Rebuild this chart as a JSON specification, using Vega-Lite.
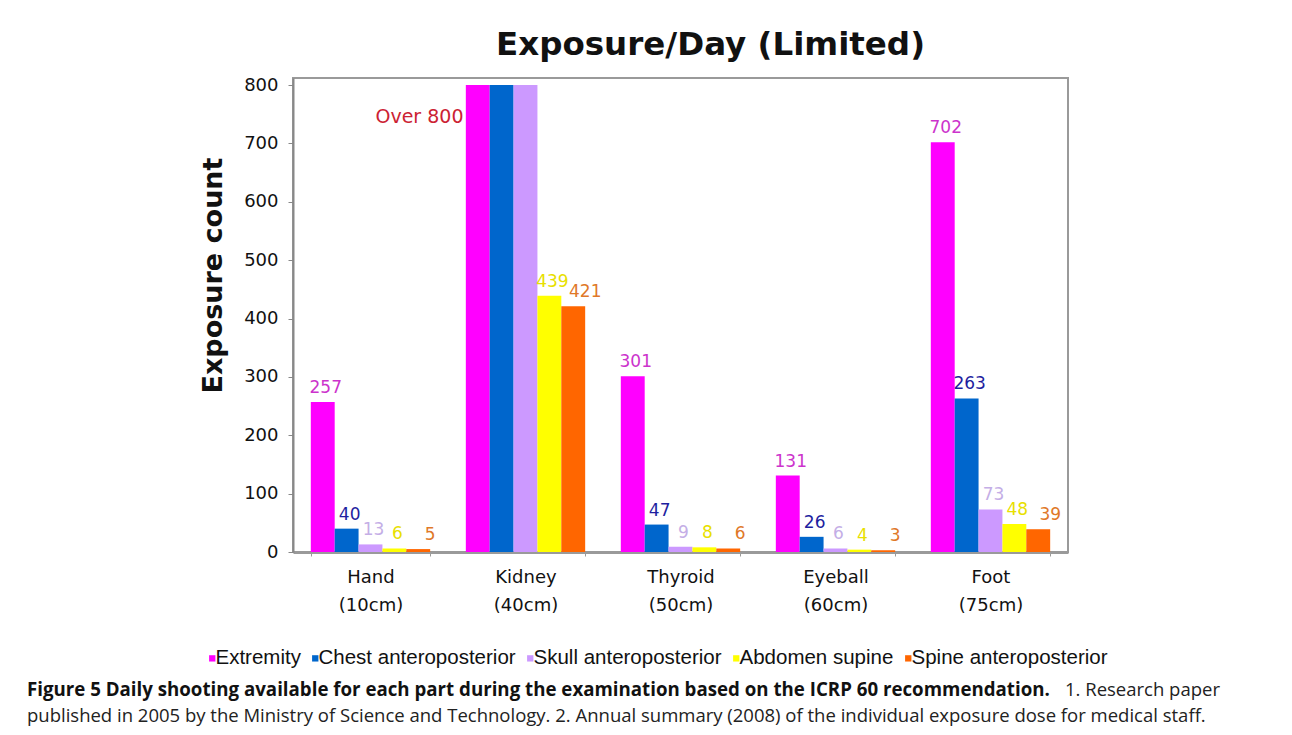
{
  "$schema": "https://vega.github.io/schema/vega-lite/v6.json",
  "width": 775,
  "height": 474,
  "autosize": {"type": "none"},
  "padding": {"left": 293, "top": 78, "right": 224, "bottom": 183},
  "background": "white",
  "title": {
    "text": "Exposure/Day (Limited)",
    "font": "DejaVu Sans",
    "fontSize": 32.5,
    "fontWeight": "bold",
    "color": "#111111",
    "anchor": "middle",
    "dx": 30,
    "offset": 15
  },
  "config": {
    "view": {"stroke": "#9a9a9a", "strokeWidth": 2},
    "axis": {"labelFont": "DejaVu Sans", "titleFont": "DejaVu Sans", "grid": false}
  },
  "data": {
    "values": [
      {"part": "Hand (10cm)", "series": "Extremity", "value": 257},
      {"part": "Hand (10cm)", "series": "Chest anteroposterior", "value": 40},
      {"part": "Hand (10cm)", "series": "Skull anteroposterior", "value": 13},
      {"part": "Hand (10cm)", "series": "Abdomen supine", "value": 6},
      {"part": "Hand (10cm)", "series": "Spine anteroposterior", "value": 5},
      {"part": "Kidney (40cm)", "series": "Extremity", "value": 800},
      {"part": "Kidney (40cm)", "series": "Chest anteroposterior", "value": 800},
      {"part": "Kidney (40cm)", "series": "Skull anteroposterior", "value": 800},
      {"part": "Kidney (40cm)", "series": "Abdomen supine", "value": 439},
      {"part": "Kidney (40cm)", "series": "Spine anteroposterior", "value": 421},
      {"part": "Thyroid (50cm)", "series": "Extremity", "value": 301},
      {"part": "Thyroid (50cm)", "series": "Chest anteroposterior", "value": 47},
      {"part": "Thyroid (50cm)", "series": "Skull anteroposterior", "value": 9},
      {"part": "Thyroid (50cm)", "series": "Abdomen supine", "value": 8},
      {"part": "Thyroid (50cm)", "series": "Spine anteroposterior", "value": 6},
      {"part": "Eyeball (60cm)", "series": "Extremity", "value": 131},
      {"part": "Eyeball (60cm)", "series": "Chest anteroposterior", "value": 26},
      {"part": "Eyeball (60cm)", "series": "Skull anteroposterior", "value": 6},
      {"part": "Eyeball (60cm)", "series": "Abdomen supine", "value": 4},
      {"part": "Eyeball (60cm)", "series": "Spine anteroposterior", "value": 3},
      {"part": "Foot (75cm)", "series": "Extremity", "value": 702},
      {"part": "Foot (75cm)", "series": "Chest anteroposterior", "value": 263},
      {"part": "Foot (75cm)", "series": "Skull anteroposterior", "value": 73},
      {"part": "Foot (75cm)", "series": "Abdomen supine", "value": 48},
      {"part": "Foot (75cm)", "series": "Spine anteroposterior", "value": 39}
    ]
  },
  "layer": [
    {
      "mark": {"type": "bar"},
      "encoding": {
        "x": {
          "field": "part",
          "type": "nominal",
          "sort": null,
          "scale": {"paddingInner": 0.23, "paddingOuter": 0.115},
          "axis": {
            "title": null,
            "labelAngle": 0,
            "labelExpr": "split(datum.label, ' ')",
            "labelFontSize": 18,
            "labelLineHeight": 28,
            "labelPadding": 12,
            "labelColor": "#111111",
            "tickBand": "extent",
            "tickColor": "#9a9a9a",
            "tickSize": 4,
            "domainColor": "#9a9a9a",
            "domainWidth": 3
          }
        },
        "xOffset": {
          "field": "series",
          "type": "nominal",
          "sort": ["Extremity", "Chest anteroposterior", "Skull anteroposterior", "Abdomen supine", "Spine anteroposterior"],
          "scale": {"paddingInner": 0, "paddingOuter": 0}
        },
        "y": {
          "field": "value",
          "type": "quantitative",
          "scale": {"domain": [0, 812], "nice": false},
          "axis": {
            "title": "Exposure count",
            "titleFontSize": 27,
            "titleFontWeight": "bold",
            "titleColor": "#111111",
            "titlePadding": 16,
            "titleY": 197,
            "values": [0, 100, 200, 300, 400, 500, 600, 700, 800],
            "labelFontSize": 18,
            "labelColor": "#111111",
            "labelPadding": 10,
            "tickSize": 5,
            "tickColor": "#888888",
            "domainColor": "#888888",
            "domainWidth": 2
          }
        },
        "color": {
          "field": "series",
          "type": "nominal",
          "scale": {
            "domain": ["Extremity", "Chest anteroposterior", "Skull anteroposterior", "Abdomen supine", "Spine anteroposterior"],
            "range": ["#FF00FF", "#0066CC", "#CC99FF", "#FFFF00", "#FF6600"]
          },
          "legend": {
            "title": null,
            "orient": "none",
            "legendX": -91,
            "legendY": 570,
            "direction": "horizontal",
            "symbolType": "square",
            "symbolSize": 40,
            "labelFont": "Liberation Sans",
            "labelFontSize": 20.5,
            "labelColor": "#111111",
            "labelOffset": -7,
            "labelLimit": 500,
            "columnPadding": 4
          }
        }
      }
    },
    {
      "transform": [{"filter": "datum.value < 800 && datum.series != 'Spine anteroposterior'"}],
      "mark": {"type": "text", "baseline": "bottom", "dy": -5, "dx": 3, "font": "DejaVu Sans", "fontSize": 17},
      "encoding": {
        "x": {"field": "part", "type": "nominal", "sort": null},
        "xOffset": {
          "field": "series",
          "type": "nominal",
          "sort": ["Extremity", "Chest anteroposterior", "Skull anteroposterior", "Abdomen supine", "Spine anteroposterior"]
        },
        "y": {"field": "value", "type": "quantitative"},
        "text": {"field": "value", "type": "quantitative"},
        "color": {
          "field": "series",
          "type": "nominal",
          "scale": {
            "domain": ["Extremity", "Chest anteroposterior", "Skull anteroposterior", "Abdomen supine", "Spine anteroposterior"],
            "range": ["#CC33CC", "#1E1EA0", "#C4AEE6", "#E8E000", "#E07828"]
          },
          "legend": null
        }
      }
    },
    {
      "transform": [{"filter": "datum.series == 'Spine anteroposterior'"}],
      "mark": {"type": "text", "baseline": "bottom", "dy": -5, "dx": 12, "font": "DejaVu Sans", "fontSize": 17},
      "encoding": {
        "x": {"field": "part", "type": "nominal", "sort": null},
        "xOffset": {
          "field": "series",
          "type": "nominal",
          "sort": ["Extremity", "Chest anteroposterior", "Skull anteroposterior", "Abdomen supine", "Spine anteroposterior"]
        },
        "y": {"field": "value", "type": "quantitative"},
        "text": {"field": "value", "type": "quantitative"},
        "color": {
          "field": "series",
          "type": "nominal",
          "scale": {
            "domain": ["Extremity", "Chest anteroposterior", "Skull anteroposterior", "Abdomen supine", "Spine anteroposterior"],
            "range": ["#CC33CC", "#1E1EA0", "#C4AEE6", "#E8E000", "#E07828"]
          },
          "legend": null
        }
      }
    },
    {
      "data": {"values": [{"part": "Kidney (40cm)", "note": "Over 800", "level": 745}]},
      "mark": {"type": "text", "align": "right", "baseline": "middle", "dx": -62, "font": "DejaVu Sans", "fontSize": 19, "color": "#CC2233"},
      "encoding": {
        "x": {"field": "part", "type": "nominal", "sort": null},
        "y": {"field": "level", "type": "quantitative"},
        "text": {"field": "note"}
      }
    },
    {
      "data": {"values": [{"t": "Figure 5 Daily shooting available for each part during the examination based on the ICRP 60 recommendation."}]},
      "mark": {"type": "text", "align": "left", "baseline": "middle", "font": "Open Sans", "fontWeight": "bold", "fontSize": 18.7, "color": "#111111"},
      "encoding": {"x": {"value": -266}, "y": {"value": 612}, "text": {"field": "t"}}
    },
    {
      "data": {"values": [{"t": "1. Research paper"}]},
      "mark": {"type": "text", "align": "left", "baseline": "middle", "font": "Open Sans", "fontSize": 18.5, "color": "#222222"},
      "encoding": {"x": {"value": 772}, "y": {"value": 612}, "text": {"field": "t"}}
    },
    {
      "data": {"values": [{"t": "published in 2005 by the Ministry of Science and Technology. 2. Annual summary (2008) of the individual exposure dose for medical staff."}]},
      "mark": {"type": "text", "align": "left", "baseline": "middle", "font": "Open Sans", "fontSize": 18.5, "color": "#222222"},
      "encoding": {"x": {"value": -266}, "y": {"value": 638}, "text": {"field": "t"}}
    }
  ],
  "resolve": {"scale": {"color": "independent"}}
}
